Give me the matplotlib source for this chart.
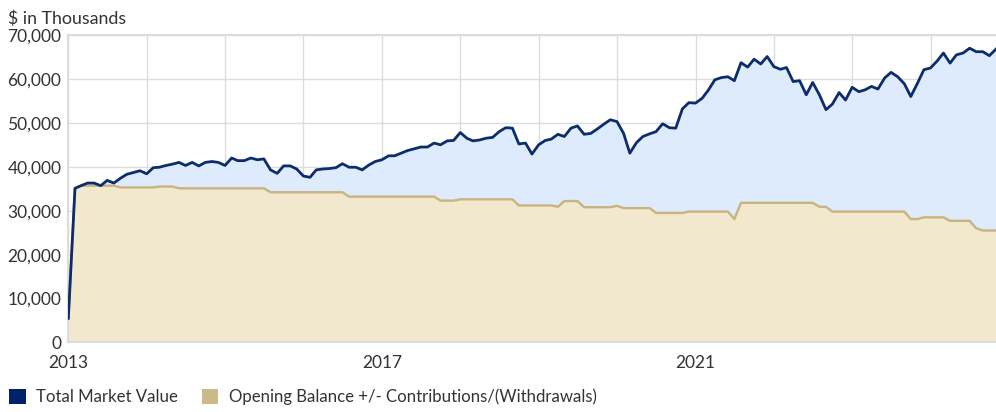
import matplotlib
matplotlib.use("agg")
import matplotlib.pyplot as plt
import matplotlib.dates as mdates
import matplotlib.transforms as mtransforms
from matplotlib.patches import Patch
import pandas as pd

# monthly values, $ in thousands, Jan 2013 onwards (one row per year)
total_market_value = [
    5500, 35100, 35700, 36300, 36300, 35700, 36900, 36300, 37400, 38300, 38700, 39100,
    38400, 39800, 39900, 40300, 40600, 41000, 40300, 41000, 40200, 41000, 41200, 41000,
    40300, 42000, 41400, 41400, 42000, 41600, 41800, 39300, 38500, 40200, 40200, 39500,
    37900, 37600, 39300, 39500, 39600, 39800, 40700, 39900, 39900, 39300, 40400, 41200,
    41600, 42500, 42500, 43100, 43700, 44100, 44500, 44500, 45400, 45000, 45900, 46000,
    47800, 46500, 45900, 46100, 46500, 46700, 48000, 48900, 48800, 45200, 45400, 42900,
    45000, 46000, 46300, 47400, 46900, 48800, 49300, 47400, 47600, 48600, 49700, 50700,
    50300, 47600, 43100, 45500, 46900, 47500, 48000, 49800, 48900, 48800, 53200, 54600,
    54500, 55600, 57400, 59800, 60300, 60500, 59600, 63700, 62700, 64500, 63400, 65100,
    62800, 62200, 62600, 59400, 59600, 56400, 59200, 56400, 53000, 54300, 56900, 55200,
    58100, 57100, 57500, 58300, 57700, 60200, 61500, 60500, 58900, 56000, 59000, 62100,
    62500, 64100, 65900, 63600, 65500, 65900, 67000, 66200, 66200, 65300, 66800,
]
net_contributions = [
    5500, 35100, 35700, 35700, 35700, 35700, 35700, 35700, 35300, 35300, 35300, 35300,
    35300, 35300, 35500, 35500, 35500, 35100, 35100, 35100, 35100, 35100, 35100, 35100,
    35100, 35100, 35100, 35100, 35100, 35100, 35100, 34200, 34200, 34200, 34200, 34200,
    34200, 34200, 34200, 34200, 34200, 34200, 34200, 33200, 33200, 33200, 33200, 33200,
    33200, 33200, 33200, 33200, 33200, 33200, 33200, 33200, 33200, 32300, 32300, 32300,
    32600, 32600, 32600, 32600, 32600, 32600, 32600, 32600, 32600, 31200, 31200, 31200,
    31200, 31200, 31200, 30900, 32200, 32200, 32200, 30800, 30800, 30800, 30800, 30800,
    31100, 30600, 30600, 30600, 30600, 30600, 29500, 29500, 29500, 29500, 29500, 29800,
    29800, 29800, 29800, 29800, 29800, 29800, 28100, 31800, 31800, 31800, 31800, 31800,
    31800, 31800, 31800, 31800, 31800, 31800, 31800, 30900, 30900, 29800, 29800, 29800,
    29800, 29800, 29800, 29800, 29800, 29800, 29800, 29800, 29800, 28100, 28100, 28500,
    28500, 28500, 28500, 27700, 27700, 27700, 27700, 26000, 25500, 25500, 25500,
]
labelled_years = [2013, 2017, 2021]
y_ticks = [0, 10000, 20000, 30000, 40000, 50000, 60000, 70000]

dates = pd.date_range("2013-01-01", periods=len(total_market_value), freq="MS")

NAVY = "#0c2c6c"
BLUE_FILL = "#deebfd"
TAN_LINE = "#c9b47f"
TAN_FILL = "#f1e8cd"
GRID = "#dcdcdc"
TEXT = "#333333"

plt.rcParams["font.family"] = ["Lato", "DejaVu Sans"]

fig = plt.figure(figsize=(9.96, 4.12), dpi=100)
ax = fig.add_axes([0.0686, 0.1687, 0.9314, 0.7463])

ax.fill_between(dates, 0, total_market_value, color=BLUE_FILL, lw=0, zorder=1)
ax.fill_between(dates, 0, net_contributions, color=TAN_FILL, lw=0, zorder=2)
ax.plot(dates, net_contributions, color=TAN_LINE, lw=1.7, zorder=3)
ax.plot(dates, total_market_value, color=NAVY, lw=2.0, zorder=4)

ax.set_xlim(dates[0], dates[-1])
ax.set_ylim(0, 70000)
ax.set_yticks(y_ticks)
ax.set_yticklabels([f"{v:,}" for v in y_ticks])

# yearly grid, labels only every fourth year
ax.xaxis.set_minor_locator(mdates.YearLocator())
ax.set_xticks([pd.Timestamp(f"{y}-01-01") for y in labelled_years])
ax.set_xticklabels([str(y) for y in labelled_years])
offset = mtransforms.ScaledTranslation(4.5 / 100, 0, fig.dpi_scale_trans)
for lbl in ax.get_xticklabels():
    lbl.set_transform(lbl.get_transform() + offset)

ax.grid(True, which="both", color=GRID, lw=1.0, zorder=0)
ax.set_axisbelow(True)
ax.tick_params(axis="both", which="both", length=0, colors=TEXT, labelsize=12.5)
ax.tick_params(axis="x", pad=9)
ax.tick_params(axis="y", pad=5)

for side in ["top", "left", "bottom"]:
    ax.spines[side].set_color(GRID)
    ax.spines[side].set_linewidth(1.5)
ax.spines["right"].set_visible(False)

fig.text(0.008, 0.955, "$ in Thousands", fontsize=12.8, color=TEXT, va="center", ha="left")

handles = [
    Patch(facecolor="#012169", edgecolor="none", label="Total Market Value"),
    Patch(facecolor="#cbb98b", edgecolor="none", label="Opening Balance +/- Contributions/(Withdrawals)"),
]
fig.legend(handles=handles, loc="center left", bbox_to_anchor=(0.006, 0.036), ncol=2,
           frameon=False, fontsize=12.1, labelcolor=TEXT, handlelength=1.0,
           handleheight=1.0, handletextpad=0.6, columnspacing=1.4, borderaxespad=0,
           borderpad=0.2)

fig.savefig("out.png", dpi=100)
